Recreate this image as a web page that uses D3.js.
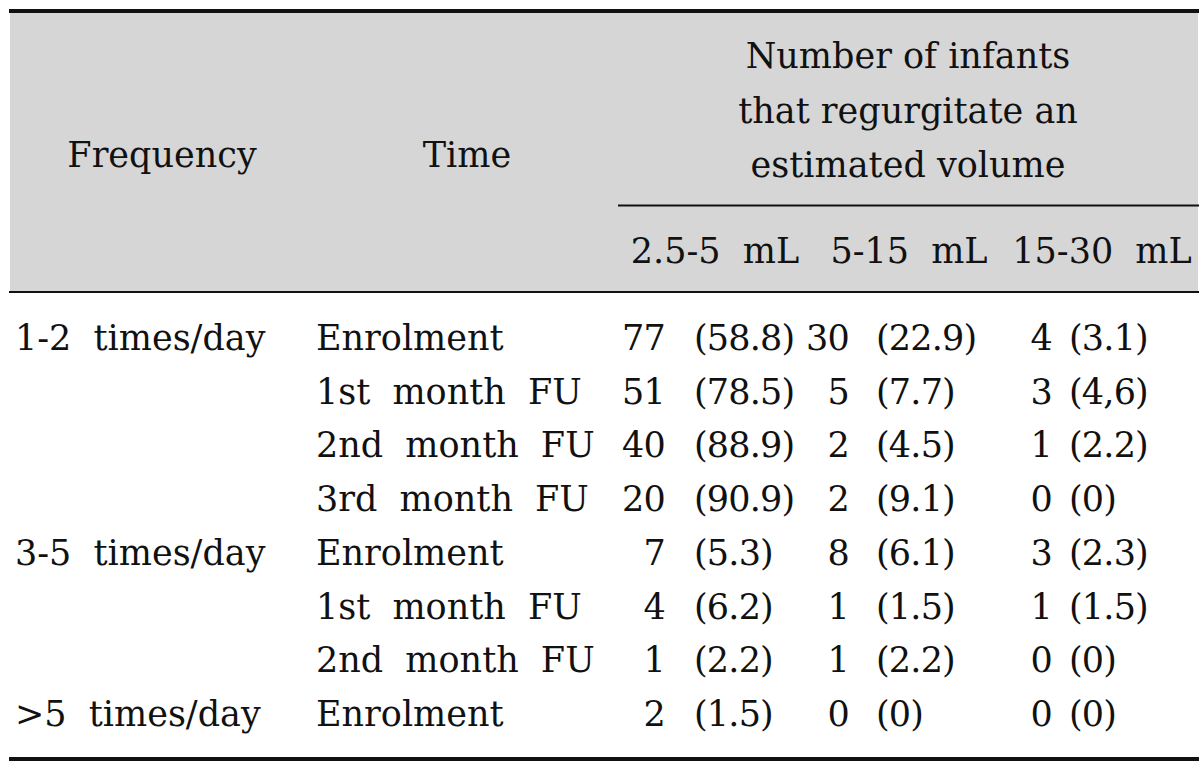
<!DOCTYPE html>
<html>
<head>
<meta charset="utf-8">
<script src="https://cdn.jsdelivr.net/npm/d3@7"></script>
<style>
  body { margin: 0; background: #fff; }
  svg { display: block; }
  text { font-family: "DejaVu Serif", serif; font-size: 35px; fill: #111; }
  .num { letter-spacing: -0.8px; }
</style>
</head>
<body>
<div id="table"></div>
<script>
// Table contents
const frequencyLabels = ["1-2 times/day", "", "", "", "3-5 times/day", "", "", ">5 times/day"];
const timeLabels = ["Enrolment", "1st month FU", "2nd month FU", "3rd month FU",
                    "Enrolment", "1st month FU", "2nd month FU", "Enrolment"];
const headerLines = ["Number of infants", "that regurgitate an", "estimated volume"];
const volumeLabels = ["2.5-5 mL", "5-15 mL", "15-30 mL"];

const counts2_5to5 = [77, 51, 40, 20, 7, 4, 1, 2];
const pct2_5to5 = ["58.8", "78.5", "88.9", "90.9", "5.3", "6.2", "2.2", "1.5"];
const counts5to15 = [30, 5, 2, 2, 8, 1, 1, 0];
const pct5to15 = ["22.9", "7.7", "4.5", "9.1", "6.1", "1.5", "2.2", "0"];
const counts15to30 = [4, 3, 1, 0, 3, 1, 0, 0];
const pct15to30 = ["3.1", "4,6", "2.2", "0", "2.3", "1.5", "0", "0"];

function drawTable() {
    const svgWidth = 1200;
    const svgHeight = 766;
    const left = 10, right = 1198;

    const svg = d3.select("#table")
        .append("svg")
        .attr("width", svgWidth)
        .attr("height", svgHeight);

    // Build cells for the three volume columns
    const columns = [
        { label: volumeLabels[0], counts: counts2_5to5, pcts: pct2_5to5 },
        { label: volumeLabels[1], counts: counts5to15, pcts: pct5to15 },
        { label: volumeLabels[2], counts: counts15to30, pcts: pct15to30 }
    ];

    // Scales
    const rowY = d3.scalePoint().domain(d3.range(timeLabels.length)).range([350, 726]);
    const headerY = d3.scalePoint().domain(headerLines).range([68, 177]);
    const countX = d3.scaleOrdinal().domain(volumeLabels).range([665, 849, 1052]);
    const pctX = d3.scaleOrdinal().domain(volumeLabels).range([694, 876, 1069]);
    const subHeadX = d3.scaleOrdinal().domain(volumeLabels).range([715, 909, 1102]);

    // Header background
    svg.append("rect")
        .attr("x", left).attr("y", 13)
        .attr("width", right - left).attr("height", 278)
        .attr("fill", "#d6d6d6");

    // Rules
    const rule = (x1, x2, y, w) => svg.append("line")
        .attr("x1", x1).attr("x2", x2).attr("y1", y).attr("y2", y)
        .attr("stroke", "#111").attr("stroke-width", w);
    rule(left - 1, right + 1, 11, 4);
    rule(618, right + 1, 205.5, 1.8);
    rule(left - 1, right + 1, 292, 2.2);
    rule(left - 1, right + 1, 759, 4);

    // Header texts
    svg.append("text").attr("x", 162).attr("y", 167)
        .attr("text-anchor", "middle").text("Frequency");
    svg.append("text").attr("x", 467).attr("y", 167)
        .attr("text-anchor", "middle").text("Time");

    svg.selectAll(".head-line")
        .data(headerLines)
        .enter()
        .append("text")
        .attr("class", "head-line")
        .attr("x", 908)
        .attr("y", d => headerY(d))
        .attr("text-anchor", "middle")
        .text(d => d);

    svg.selectAll(".sub-head")
        .data(volumeLabels)
        .enter()
        .append("text")
        .attr("class", "sub-head")
        .attr("x", d => subHeadX(d))
        .attr("y", 263)
        .attr("text-anchor", "middle")
        .attr("word-spacing", "11px")
        .text(d => d);

    // Body rows
    svg.selectAll(".freq")
        .data(frequencyLabels)
        .enter()
        .append("text")
        .attr("class", "freq")
        .attr("x", 15)
        .attr("y", (d, i) => rowY(i))
        .attr("word-spacing", "11px")
        .text(d => d);

    svg.selectAll(".time")
        .data(timeLabels)
        .enter()
        .append("text")
        .attr("class", "time")
        .attr("x", 316)
        .attr("y", (d, i) => rowY(i))
        .attr("word-spacing", "11px")
        .text(d => d);

    columns.forEach(col => {
        svg.selectAll(null)
            .data(col.counts)
            .enter()
            .append("text")
            .attr("class", "num")
            .attr("x", countX(col.label))
            .attr("y", (d, i) => rowY(i))
            .attr("text-anchor", "end")
            .text(d => d);

        svg.selectAll(null)
            .data(col.pcts)
            .enter()
            .append("text")
            .attr("class", "num")
            .attr("x", pctX(col.label))
            .attr("y", (d, i) => rowY(i))
            .text(d => `(${d})`);
    });
}

drawTable();
</script>
</body>
</html>
